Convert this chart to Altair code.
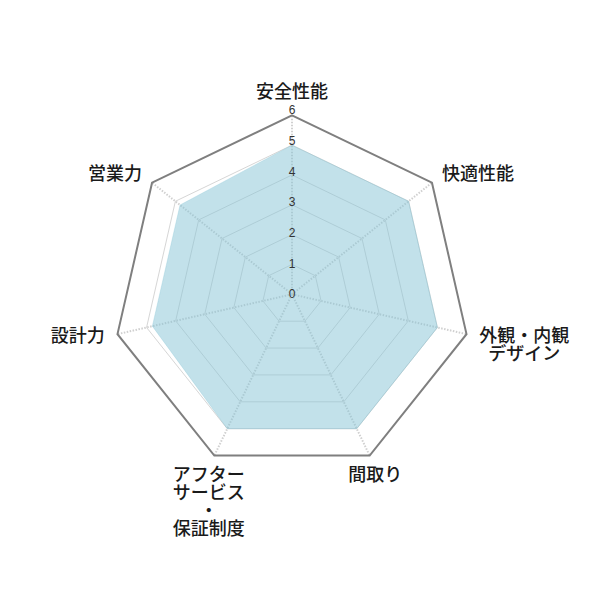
import math
import altair as alt
import pandas as pd

# ---------------- data ----------------
categories = [
    "安全性能",
    "快適性能",
    "外観・内観\nデザイン",
    "間取り",
    "アフター\nサービス\n・\n保証制度",
    "設計力",
    "営業力",
]
values = [5, 5, 5, 5, 5, 4.8, 4.8]
tick_values = [0, 1, 2, 3, 4, 5, 6]
max_value = 6

# ---------------- layout ----------------
W = H = 584
PX = 179 / max_value          # pixels per unit
CX, CY = 284, 286.3           # centre of the radar in plot pixels
FS = 18                       # category label font size
LH = 18                       # category label line height
LABEL_PAD = 13                # px between outer ring and labels
TICK_SPREAD = 1.027           # tick labels sit slightly outside their ring

x_dom = [-CX / PX, (W - CX) / PX]
y_dom = [-(H - CY) / PX, CY / PX]

n = len(categories)
angles = [2 * math.pi * i / n for i in range(n)]


def pt(r, a):
    return r * math.sin(a), r * math.cos(a)


poly_df = pd.DataFrame(
    [{"x": pt(v, a)[0], "y": pt(v, a)[1], "i": i}
     for i, (v, a) in enumerate(zip(values, angles))]
)

ring_rows = []
for k in tick_values[1:]:
    for i, a in enumerate(angles):
        x, y = pt(k, a)
        ring_rows.append({"x": x, "y": y, "i": i, "ring": k})
rings_df = pd.DataFrame(ring_rows)
inner_df = rings_df[rings_df.ring < max_value]
outer_df = rings_df[rings_df.ring == max_value]

spokes_df = pd.DataFrame(
    [{"x": 0.0, "y": 0.0, "x2": pt(max_value, a)[0], "y2": pt(max_value, a)[1]}
     for a in angles]
)

ticks_df = pd.DataFrame({
    "x": [0.0] * len(tick_values),
    "y": [k * TICK_SPREAD for k in tick_values],
    "t": [str(k) for k in tick_values],
})

# label position: y is the centre of the FIRST line (Vega stacks further lines below)
R = max_value + LABEL_PAD / PX
label_rows = []
for c, a in zip(categories, angles):
    lines = c.split("\n")
    w = max(len(l) for l in lines) * FS
    ax, ay = pt(R, a)
    s, co = math.sin(a), math.cos(a)
    dx = 0.0
    if s > 0.5:
        dx = w / 2
    elif s < -0.5:
        dx = -w / 2
    if co > 0.9:
        dy = LH / 2
    elif co < -0.5:
        dy = -LH / 2
    else:
        dy = 0.0
    label_rows.append({"x": ax + dx / PX, "y": ay + dy / PX, "label": c})
labels_df = pd.DataFrame(label_rows)

xs = alt.Scale(domain=x_dom, nice=False, zero=False)
ys = alt.Scale(domain=y_dom, nice=False, zero=False)


def X(f="x"):
    return alt.X(f"{f}:Q", scale=xs, axis=None)


def Y(f="y"):
    return alt.Y(f"{f}:Q", scale=ys, axis=None)


inner_rings = alt.Chart(inner_df).mark_line(
    interpolate="linear-closed", stroke="#d6d6d6", strokeWidth=1
).encode(x=X(), y=Y(), detail="ring:N", order="i:Q")

spokes = alt.Chart(spokes_df).mark_rule(
    stroke="#d0d0d0", strokeWidth=2, strokeDash=[1.5, 1.5]
).encode(x=X(), y=Y(), x2="x2:Q", y2="y2:Q")

outer_ring = alt.Chart(outer_df).mark_line(
    interpolate="linear-closed", stroke="#7f7f7f", strokeWidth=2
).encode(x=X(), y=Y(), detail="ring:N", order="i:Q")

area = alt.Chart(poly_df).mark_line(
    interpolate="linear-closed", fill="#85c3d5", fillOpacity=0.5,
    stroke="#85c3d5", strokeOpacity=0.3, strokeWidth=1
).encode(x=X(), y=Y(), order="i:Q")

tick_text = alt.Chart(ticks_df).mark_text(
    font="Liberation Sans", fontSize=12, color="#333333",
    align="center", baseline="middle"
).encode(x=X(), y=Y(), text="t:N")

cat_text = alt.Chart(labels_df).mark_text(
    font="Noto Sans CJK JP", fontSize=FS, fontWeight=500, lineHeight=LH,
    lineBreak="\n", color="#1a1a1a", align="center", baseline="middle"
).encode(x=X(), y=Y(), text="label:N")

chart = alt.layer(
    inner_rings, spokes, outer_ring, area, tick_text, cat_text
).properties(
    width=W, height=H, padding=0, autosize=alt.AutoSizeParams(type="none")
).configure_view(strokeWidth=0)

chart.save("out.html", embed_options={"renderer": "svg", "actions": False})
